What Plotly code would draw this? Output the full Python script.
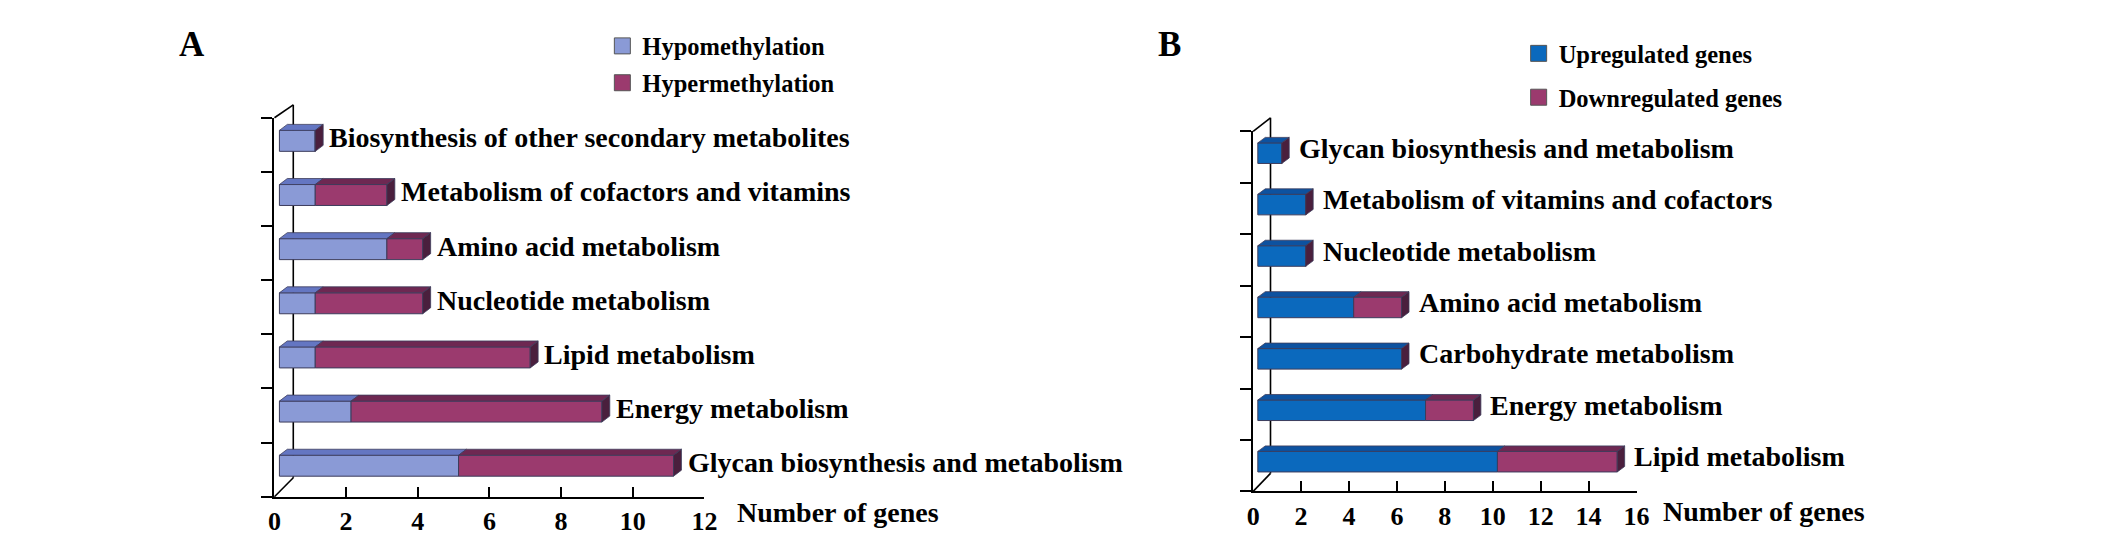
import plotly.graph_objects as go

W, H = 2126, 536

# ---------------- data ----------------
a_categories = [
    "Biosynthesis of other secondary metabolites",
    "Metabolism of cofactors and vitamins",
    "Amino acid metabolism",
    "Nucleotide metabolism",
    "Lipid metabolism",
    "Energy metabolism",
    "Glycan biosynthesis and metabolism",
]
a_hypo = [1, 1, 3, 1, 1, 2, 5]
a_hyper = [0, 2, 1, 3, 6, 7, 6]
a_ticks = [0, 2, 4, 6, 8, 10, 12]
a_series = ["Hypomethylation", "Hypermethylation"]

b_categories = [
    "Glycan biosynthesis and metabolism",
    "Metabolism of vitamins and cofactors",
    "Nucleotide metabolism",
    "Amino acid metabolism",
    "Carbohydrate metabolism",
    "Energy metabolism",
    "Lipid metabolism",
]
b_up = [1, 2, 2, 4, 6, 7, 10]
b_down = [0, 0, 0, 2, 0, 2, 5]
b_ticks = [0, 2, 4, 6, 8, 10, 12, 14, 16]
b_series = ["Upregulated genes", "Downregulated genes"]

FONT = "Liberation Serif"
SIDE = "#4a1f3d"
EDGE = "#3c3c5c"
LABEL_SIZE = 28

panels = [
    dict(cats=a_categories, v1=a_hypo, v2=a_hyper, ticks=a_ticks, names=a_series,
         c1="#8a9ad6", c1top="#6476c2", c2="#9b3a6e", c2top="#6e2852",
         x0=270, x1=704, ybot=497.7, ytop=118, bh=21, dx=8, dy=6, shift=5, up=4,
         wall_dx=19, wall_top=13, wall_bot=19, gap=12, lab_yshift=7,
         xa="x", ya="y", legend="legend", title_shift=31, title_y=513),
    dict(cats=b_categories, v1=b_up, v2=b_down, ticks=b_ticks, names=b_series,
         c1="#0b69bd", c1top="#0d52a0", c2="#9b3a6e", c2top="#6e2852",
         x0=1258, x1=1645, ybot=492.3, ytop=131.7, bh=20.6, dx=7.5, dy=5.5, shift=4.7, up=4,
         wall_dx=17.5, wall_top=13.7, wall_bot=18, gap=15, lab_yshift=9,
         xa="x2", ya="y2", legend="legend2", title_shift=24, title_y=512),
]

fig = go.Figure()
shapes = []
annotations = []


def poly(xs, ys, color, xa, ya):
    fig.add_trace(go.Scatter(
        x=xs + [xs[0]], y=ys + [ys[0]], mode="lines", fill="toself",
        fillcolor=color, line=dict(color=EDGE, width=0.8),
        hoverinfo="skip", showlegend=False, xaxis=xa, yaxis=ya))


for p in panels:
    n = len(p["cats"])
    xmax = p["ticks"][-1]
    pxX = (p["x1"] - p["x0"]) / xmax
    pxY = (p["ybot"] - p["ytop"]) / n
    s = p["shift"] / pxX
    ypos = [n - 1 - i + p["up"] / pxY for i in range(n)]
    bw = p["bh"] / pxY
    ddx = p["dx"] / pxX
    ddy = p["dy"] / pxY

    fig.add_trace(go.Bar(
        x=p["v1"], y=ypos, base=[s] * n, width=bw, orientation="h",
        marker=dict(color=p["c1"], line=dict(color=EDGE, width=1)),
        name=p["names"][0], showlegend=False, xaxis=p["xa"], yaxis=p["ya"]))
    fig.add_trace(go.Bar(
        x=p["v2"], y=ypos, base=[s + v for v in p["v1"]], width=bw, orientation="h",
        marker=dict(color=p["c2"], line=dict(color=EDGE, width=1)),
        name=p["names"][1], showlegend=False, xaxis=p["xa"], yaxis=p["ya"]))

    for i in range(n):
        yt = ypos[i] + bw / 2
        yb = ypos[i] - bw / 2
        a0 = s
        a1 = s + p["v1"][i]
        a2 = a1 + p["v2"][i]
        if p["v1"][i] > 0:
            poly([a0, a1, a1 + ddx, a0 + ddx], [yt, yt, yt + ddy, yt + ddy], p["c1top"], p["xa"], p["ya"])
        if p["v2"][i] > 0:
            poly([a1, a2, a2 + ddx, a1 + ddx], [yt, yt, yt + ddy, yt + ddy], p["c2top"], p["xa"], p["ya"])
        poly([a2, a2, a2 + ddx, a2 + ddx], [yb, yt, yt + ddy, yb + ddy], SIDE, p["xa"], p["ya"])
        annotations.append(dict(
            x=a2, y=n - 1 - i, xref=p["xa"], yref=p["ya"], text=p["cats"][i],
            showarrow=False, xanchor="left", yanchor="middle",
            xshift=p["gap"], yshift=p["lab_yshift"],
            font=dict(family=FONT, size=LABEL_SIZE, color="black", weight="bold")))

    # legend entries
    for k, (nm, col) in enumerate(zip(p["names"], [p["c1"], p["c2"]])):
        fig.add_trace(go.Scatter(
            x=[None], y=[None], mode="markers", name=nm,
            marker=dict(symbol="square", size=19, color=col, line=dict(color="#555555", width=1)),
            legend=p["legend"], legendgroup=p["legend"] + str(k),
            xaxis=p["xa"], yaxis=p["ya"]))

    # 3-D wall lines (paper coordinates from geometry)
    def P(xp, yp):
        return xp / W, 1 - yp / H
    bx = p["x0"] + p["wall_dx"]
    for (xa0, ya0, xa1, ya1) in [
        (p["x0"], p["ytop"], bx, p["ytop"] - p["wall_top"]),
        (bx, p["ytop"] - p["wall_top"], bx, p["ybot"] - p["wall_bot"]),
        (p["x0"], p["ybot"], bx, p["ybot"] - p["wall_bot"]),
    ]:
        u0, v0 = P(xa0, ya0)
        u1, v1 = P(xa1, ya1)
        shapes.append(dict(type="line", xref="paper", yref="paper", x0=u0, y0=v0, x1=u1, y1=v1,
                           line=dict(color="black", width=1.6), layer="below"))

    annotations.append(dict(
        x=1, xref=p["xa"] + " domain", y=1 - p["title_y"] / H, yref="paper",
        text="Number of genes", showarrow=False, xanchor="left", yanchor="middle",
        xshift=p["title_shift"], font=dict(family=FONT, size=LABEL_SIZE, color="black", weight="bold")))

annotations.append(dict(x=187 / W, y=1 - 45 / H, xref="paper", yref="paper", text="A",
                        showarrow=False, xanchor="center", yanchor="middle",
                        font=dict(family=FONT, size=35, color="black", weight="bold")))
annotations.append(dict(x=1174 / W, y=1 - 45 / H, xref="paper", yref="paper", text="B",
                        showarrow=False, xanchor="center", yanchor="middle",
                        font=dict(family=FONT, size=35, color="black", weight="bold")))


def xaxis_cfg(p):
    return dict(domain=[p["x0"] / W, p["x1"] / W], range=[0, p["ticks"][-1]],
                tickvals=p["ticks"], ticks="inside", ticklen=10, tickwidth=2, tickcolor="black",
                showline=True, linewidth=2, linecolor="black", showgrid=False, zeroline=False,
                tickfont=dict(family=FONT, size=26, color="black", weight="bold"),
                anchor=p["ya"], fixedrange=True)


def yaxis_cfg(p):
    n = len(p["cats"])
    return dict(domain=[1 - p["ybot"] / H, 1 - p["ytop"] / H], range=[-0.5, n - 0.5],
                tickvals=[k - 0.5 for k in range(n + 1)], ticks="outside", ticklen=11,
                tickwidth=2, tickcolor="black", showticklabels=False,
                showline=True, linewidth=2, linecolor="black", showgrid=False, zeroline=False,
                anchor=p["xa"], fixedrange=True)


legend_common = dict(font=dict(family=FONT, size=24.5, color="black", weight="bold"),
                     bgcolor="rgba(0,0,0,0)", xanchor="left", yanchor="top",
                     traceorder="grouped", itemsizing="trace")

fig.update_layout(
    width=W, height=H, margin=dict(l=0, r=0, t=0, b=0),
    paper_bgcolor="white", plot_bgcolor="white",
    barmode="overlay",
    xaxis=xaxis_cfg(panels[0]), yaxis=yaxis_cfg(panels[0]),
    xaxis2=xaxis_cfg(panels[1]), yaxis2=yaxis_cfg(panels[1]),
    legend=dict(x=601 / W, y=1 - 23.5 / H, tracegroupgap=2, **legend_common),
    legend2=dict(x=1526 / W, y=1 - 31 / H, tracegroupgap=9, **legend_common),
    shapes=shapes, annotations=annotations,
)

fig.write_html("out.html",
               config={"displayModeBar": False},
               post_script="document.body.style.margin='0';document.body.style.overflow='hidden';")
